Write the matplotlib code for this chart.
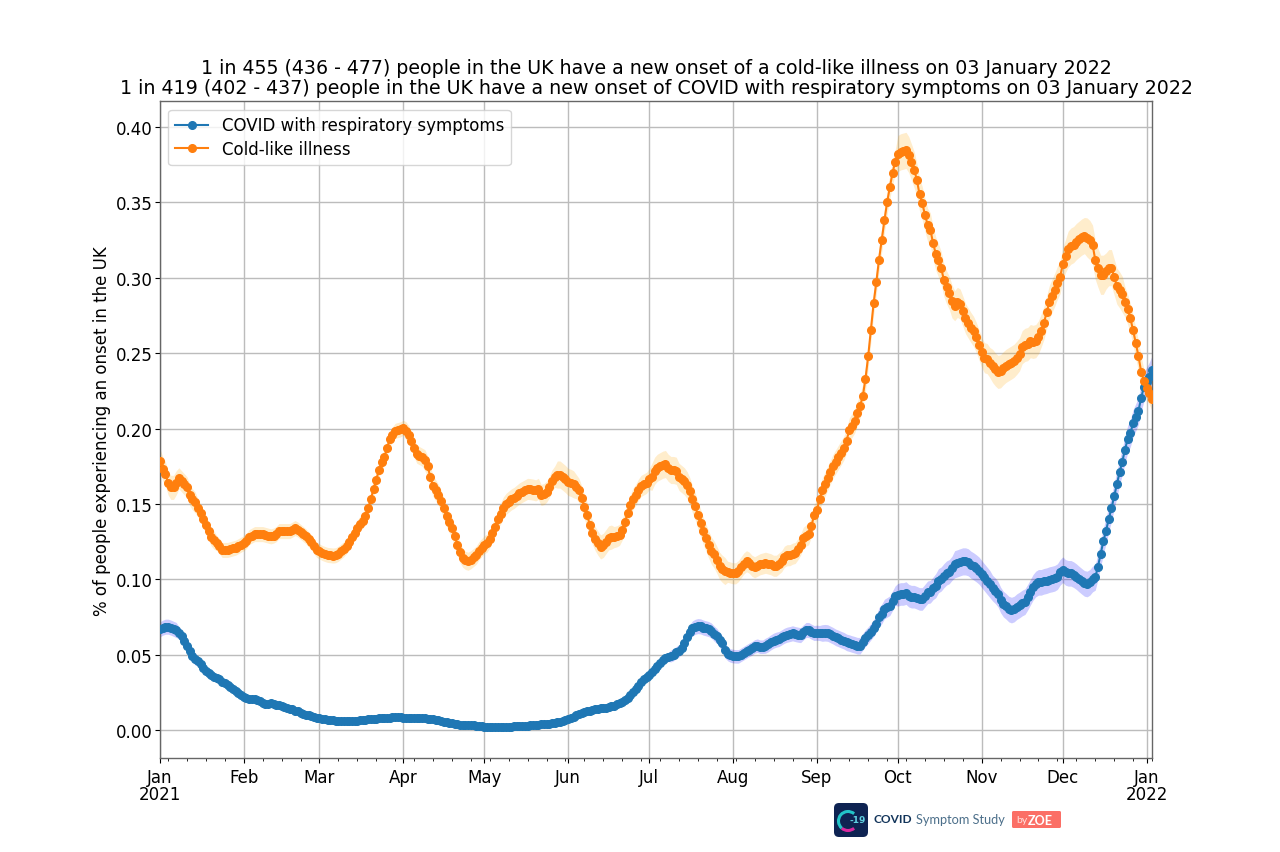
import numpy as np
import pandas as pd
import matplotlib
matplotlib.use("Agg")
import matplotlib.pyplot as plt
import matplotlib.dates as mdates
from matplotlib.patches import FancyBboxPatch, Arc

dates = pd.date_range("2021-01-01", "2022-01-03", freq="D")

title_lines = [
    "1 in 455 (436 - 477) people in the UK have a new onset of a cold-like illness on 03 January 2022",
    "1 in 419 (402 - 437) people in the UK have a new onset of COVID with respiratory symptoms on 03 January 2022",
]
ylabel = "% of people experiencing an onset in the UK"
covid_label = "COVID with respiratory symptoms"
cold_label = "Cold-like illness"
y_ticks = [0.00, 0.05, 0.10, 0.15, 0.20, 0.25, 0.30, 0.35, 0.40]

cold = [
    # Jan
    .1785,.1735,.170,.164,.161,.161,.164,.167,.165,.163,.161,.156,.153,.151,.1475,.144,.140,.136,.132,.128,.126,.124,.122,.1195,.1195,.1195,.120,.1205,.121,.122,.123,
    # Feb
    .124,.1255,.128,.129,.130,.130,.130,.130,.1295,.129,.1285,.129,.130,.132,.132,.132,.132,.132,.133,.134,.133,.1315,.130,.1285,.1265,.1245,.122,.1195,
    # Mar
    .1185,.1175,.1168,.1162,.116,.1158,.116,.117,.1185,.120,.122,.125,.128,.131,.134,.137,.139,.142,.147,.153,.160,.166,.1725,.1775,.181,.187,.193,.196,.1985,.199,.1995,
    # Apr
    .2005,.1985,.196,.192,.187,.183,.182,.181,.179,.175,.168,.162,.159,.156,.152,.147,.142,.138,.134,.129,.123,.118,.114,.1125,.112,.113,.1145,.116,.119,.121,
    # May
    .123,.124,.127,.131,.135,.140,.1435,.1475,.150,.1515,.153,.154,.1555,.157,.158,.159,.160,.1598,.1595,.159,.160,.156,.1565,.158,.161,.1655,.168,.1695,.1695,.168,.1665,
    # Jun
    .1646,.164,.163,.1615,.159,.154,.148,.143,.136,.131,.127,.124,.1215,.1225,.125,.1275,.128,.128,.1285,.1295,.133,.138,.144,.149,.1535,.156,.1595,.162,.163,.164,
    # Jul
    .1665,.168,.172,.174,.175,.176,.1765,.174,.1725,.1725,.172,.168,.1665,.165,.1625,.1585,.153,.1485,.1425,.1375,.132,.1275,.123,.119,.1165,.113,.109,.107,.1055,.105,.1045,
    # Aug
    .104,.104,.1055,.108,.1105,.112,.111,.109,.108,.109,.110,.1105,.111,.1105,.110,.109,.109,.1105,.112,.115,.116,.116,.117,.1175,.120,.123,.1275,.129,.130,.1355,.1425,
    # Sep
    .146,.153,.159,.163,.167,.171,.175,.178,.181,.184,.187,.192,.199,.202,.205,.2101,.215,.2214,.233,.248,.2655,.283,.297,.312,.325,.338,.350,.360,.3695,.377,
    # Oct
    .3824,.3835,.384,.3845,.3817,.3768,.3717,.365,.3553,.3495,.3418,.335,.332,.323,.316,.3115,.3065,.2985,.2937,.29,.2844,.2815,.2837,.2826,.278,.273,.27,.267,.2644,.2604,.2555,
    # Nov
    .2505,.247,.2464,.2438,.2416,.2393,.2376,.238,.24,.2416,.2427,.2438,.245,.247,.2493,.254,.2555,.256,.258,.2575,.258,.2605,.265,.27,.277,.2838,.288,.292,.2967,.3005,
    # Dec
    .309,.3144,.319,.321,.322,.324,.3255,.327,.328,.3267,.325,.322,.312,.3067,.302,.302,.3045,.3067,.3067,.3005,.2945,.292,.289,.284,.279,.273,.2653,.2565,.248,.2376,.2316,
    # Jan 2022
    .2271,.2238,.2198,
]

covid = [
    # Jan
    .0668,.0679,.0686,.0686,.068,.0672,.0664,.0646,.0624,.059,.0558,.0524,.049,.0473,.0458,.044,.0414,.039,.0376,.0363,.0354,.0345,.0336,.032,.031,.0299,.0288,.0274,.0259,.0243,.023,
    # Feb
    .0219,.021,.0204,.0204,.0208,.0199,.019,.0177,.017,.0175,.0181,.0175,.0168,.0164,.0159,.0155,.0146,.0142,.0137,.013,.0124,.0115,.0106,.0102,.0097,.0093,.0088,.0082,
    # Mar
    .0079,.0076,.0073,.0070,.0067,.0064,.0062,.0060,.0060,.0060,.0060,.0061,.0061,.0060,.0061,.0064,.0066,.0069,.0072,.0075,.0076,.0077,.0078,.0079,.0079,.0080,.0081,.0085,.0087,.0088,.0086,
    # Apr
    .0082,.0082,.0081,.0081,.0080,.0080,.0081,.0080,.0080,.0077,.0074,.0071,.0068,.0064,.0060,.0056,.0053,.0049,.0045,.0042,.0039,.0037,.0036,.0034,.0033,.0032,.0031,.0030,.0030,.0029,
    # May
    .0024,.0024,.0023,.0023,.0022,.0022,.0021,.0021,.0022,.0023,.0024,.0025,.0026,.0026,.0026,.0027,.0028,.0033,.0034,.0035,.0037,.0038,.0040,.0042,.0043,.0046,.0049,.0053,.0056,.0060,.0066,
    # Jun
    .0072,.0082,.0090,.0098,.0106,.0114,.0120,.0126,.0130,.0134,.0138,.0141,.0144,.0147,.0150,.0153,.0158,.0163,.0170,.0178,.0185,.0198,.0215,.0235,.0252,.027,.0295,.0317,.034,.0352,
    # Jul
    .0363,.0385,.0405,.0425,.0445,.0462,.0478,.0485,.0492,.050,.0515,.0525,.0545,.0575,.0615,.065,.0675,.0685,.069,.0688,.068,.0675,.067,.066,.064,.0625,.060,.0575,.053,.0505,.0495,
    # Aug
    .0491,.0489,.0489,.05,.0511,.0522,.0533,.0542,.0555,.056,.0553,.0553,.056,.0569,.0582,.0593,.06,.0604,.0615,.0626,.0633,.0637,.0642,.0637,.0633,.063,.0648,.0664,.0664,.0653,.0644,
    # Sep
    .0646,.0644,.0644,.0646,.0644,.0635,.0626,.0615,.0608,.06,.0593,.0582,.0577,.0571,.0566,.056,.056,.0586,.0611,.063,.0653,.0677,.0704,.0748,.077,.0803,.0814,.0825,.0858,.0892,
    # Oct
    .0898,.0903,.0903,.0909,.0892,.0885,.0885,.0878,.087,.087,.0892,.0914,.0918,.094,.0958,.0991,.1002,.1024,.1042,.1051,.1073,.11,.1106,.1113,.1119,.1119,.1113,.1097,.1086,.1073,.1058,
    # Nov
    .1035,.1013,.0991,.0969,.0942,.0925,.0903,.0863,.0836,.0821,.0803,.0796,.0803,.0819,.083,.0843,.0852,.0881,.0914,.0947,.0969,.098,.098,.0987,.0991,.0998,.1002,.1007,.1018,.1046,
    # Dec
    .1064,.1046,.104,.104,.1031,.1018,.1002,.0987,.0973,.0969,.098,.1002,.1013,.1084,.1168,.1252,.1323,.140,.147,.155,.163,.171,.178,.186,.193,.197,.2035,.2075,.2118,.2205,.2275,
    # Jan 2022
    .231,.2345,.2387,
]

# half-width of the shaded band, read week by week
cold_halfwidth_weekly = [
    .008,.007,.006,.005,.005,.005,.005,.005,.005,.005,.005,.005,.005,.006,.007,.007,.006,.006,
    .007,.007,.007,.009,.008,.008,.007,.007,.009,.009,.009,.009,.007,.007,.007,.007,.007,
    .008,.008,.008,.008,.012,.011,.011,.010,.010,.011,.011,.011,.011,.012,.013,.012,.010,.008,
]
covid_halfwidth_weekly = [
    .005,.004,.003,.002,.002,.0015,.0015,.0012,.001,.001,.001,.001,.001,.001,.001,.0008,.0008,.0008,
    .0008,.0008,.0008,.001,.0015,.002,.002,.003,.003,.004,.005,.005,.0045,.0045,.005,.005,.005,
    .0055,.0055,.0055,.0065,.0075,.0075,.008,.009,.009,.0085,.0085,.0085,.0085,.0085,.0085,.0085,.009,.0095,
]

assert len(cold) == len(dates), len(cold)
assert len(covid) == len(dates), len(covid)

cold_a = np.array(cold)
covid_a = np.array(covid)
cold_hw = np.repeat(cold_halfwidth_weekly, 7)[:len(dates)]
covid_hw = np.repeat(covid_halfwidth_weekly, 7)[:len(dates)]

fig = plt.figure(figsize=(12.8, 8.53), dpi=100)
ax = fig.add_axes([0.125, 0.11, 0.775, 0.77])

ax.fill_between(dates, covid_a - covid_hw, covid_a + covid_hw, color="blue", alpha=0.2, lw=0)
ax.fill_between(dates, cold_a - cold_hw, cold_a + cold_hw, color="orange", alpha=0.2, lw=0)
ax.plot(dates, covid_a, "-o", color="tab:blue", label=covid_label, ms=5.5, lw=1.5, zorder=3)
ax.plot(dates, cold_a, "-o", color="tab:orange", label=cold_label, ms=5.5, lw=1.5, zorder=3)

ax.set_xlim(dates[0], dates[-1])
ax.set_ylim(-0.0186, 0.417)
ax.set_yticks(y_ticks)
ax.yaxis.set_major_formatter(matplotlib.ticker.FormatStrFormatter("%.2f"))
ax.xaxis.set_major_locator(mdates.MonthLocator())
ax.xaxis.set_minor_locator(mdates.WeekdayLocator(byweekday=mdates.MO))


def month_fmt(x, pos=None):
    d = mdates.num2date(x)
    return d.strftime("%b\n%Y") if d.month == 1 else d.strftime("%b")


ax.xaxis.set_major_formatter(matplotlib.ticker.FuncFormatter(month_fmt))
ax.tick_params(axis="both", which="major", labelsize=12)
ax.tick_params(axis="y", which="major", pad=1.5)
for lab in ax.get_xticklabels():
    lab.set_linespacing(0.95)
ax.grid(True, which="major", color="#bcbcbc", lw=1.0)
ax.set_axisbelow(True)
for s in ax.spines.values():
    s.set_color("#666666")
    s.set_linewidth(1.0)
ax.set_ylabel(ylabel, fontsize=12)
ax.set_title("\n".join(title_lines), fontsize=13.7, pad=6, linespacing=1.05)
ax.legend(loc="upper left", fontsize=12, framealpha=0.8, labelspacing=0.35)

# logo strip, in pixel coordinates of the figure
ov = fig.add_axes([0, 0, 1, 1], facecolor="none")
ov.set_xlim(0, 1280)
ov.set_ylim(853, 0)
ov.axis("off")
ov.add_patch(FancyBboxPatch((834, 804), 34, 34, boxstyle="round,pad=0,rounding_size=5",
                            fc="#0e2352", ec="none"))
ov.add_patch(Arc((848, 822), 19, 19, theta1=130, theta2=310, color="#22c4c8", lw=2.2))
ov.add_patch(Arc((848, 822), 19, 19, theta1=50, theta2=130, color="#d92aa0", lw=2.2))
ov.text(858, 821, "-19", color="#5fd0e0", fontsize=6.5, fontweight="bold", ha="center", va="center")
ov.text(874, 820, "COVID", color="#12345a", fontsize=8.6, fontweight="bold", family="Lato", va="center")
ov.text(916, 820, "Symptom Study", color="#4c6f8a", fontsize=9.2, family="Lato", va="center")
ov.add_patch(FancyBboxPatch((1012, 812), 49, 17, boxstyle="round,pad=0,rounding_size=1.5",
                            fc="#fb6f66", ec="none"))
ov.text(1016, 821, "by", color="#ffe3df", fontsize=7.5, family="Lato", va="center")
ov.text(1028, 821, "ZOE", color="white", fontsize=9, fontweight="bold", family="Lato", va="center")

fig.savefig("out.png", dpi=100)
